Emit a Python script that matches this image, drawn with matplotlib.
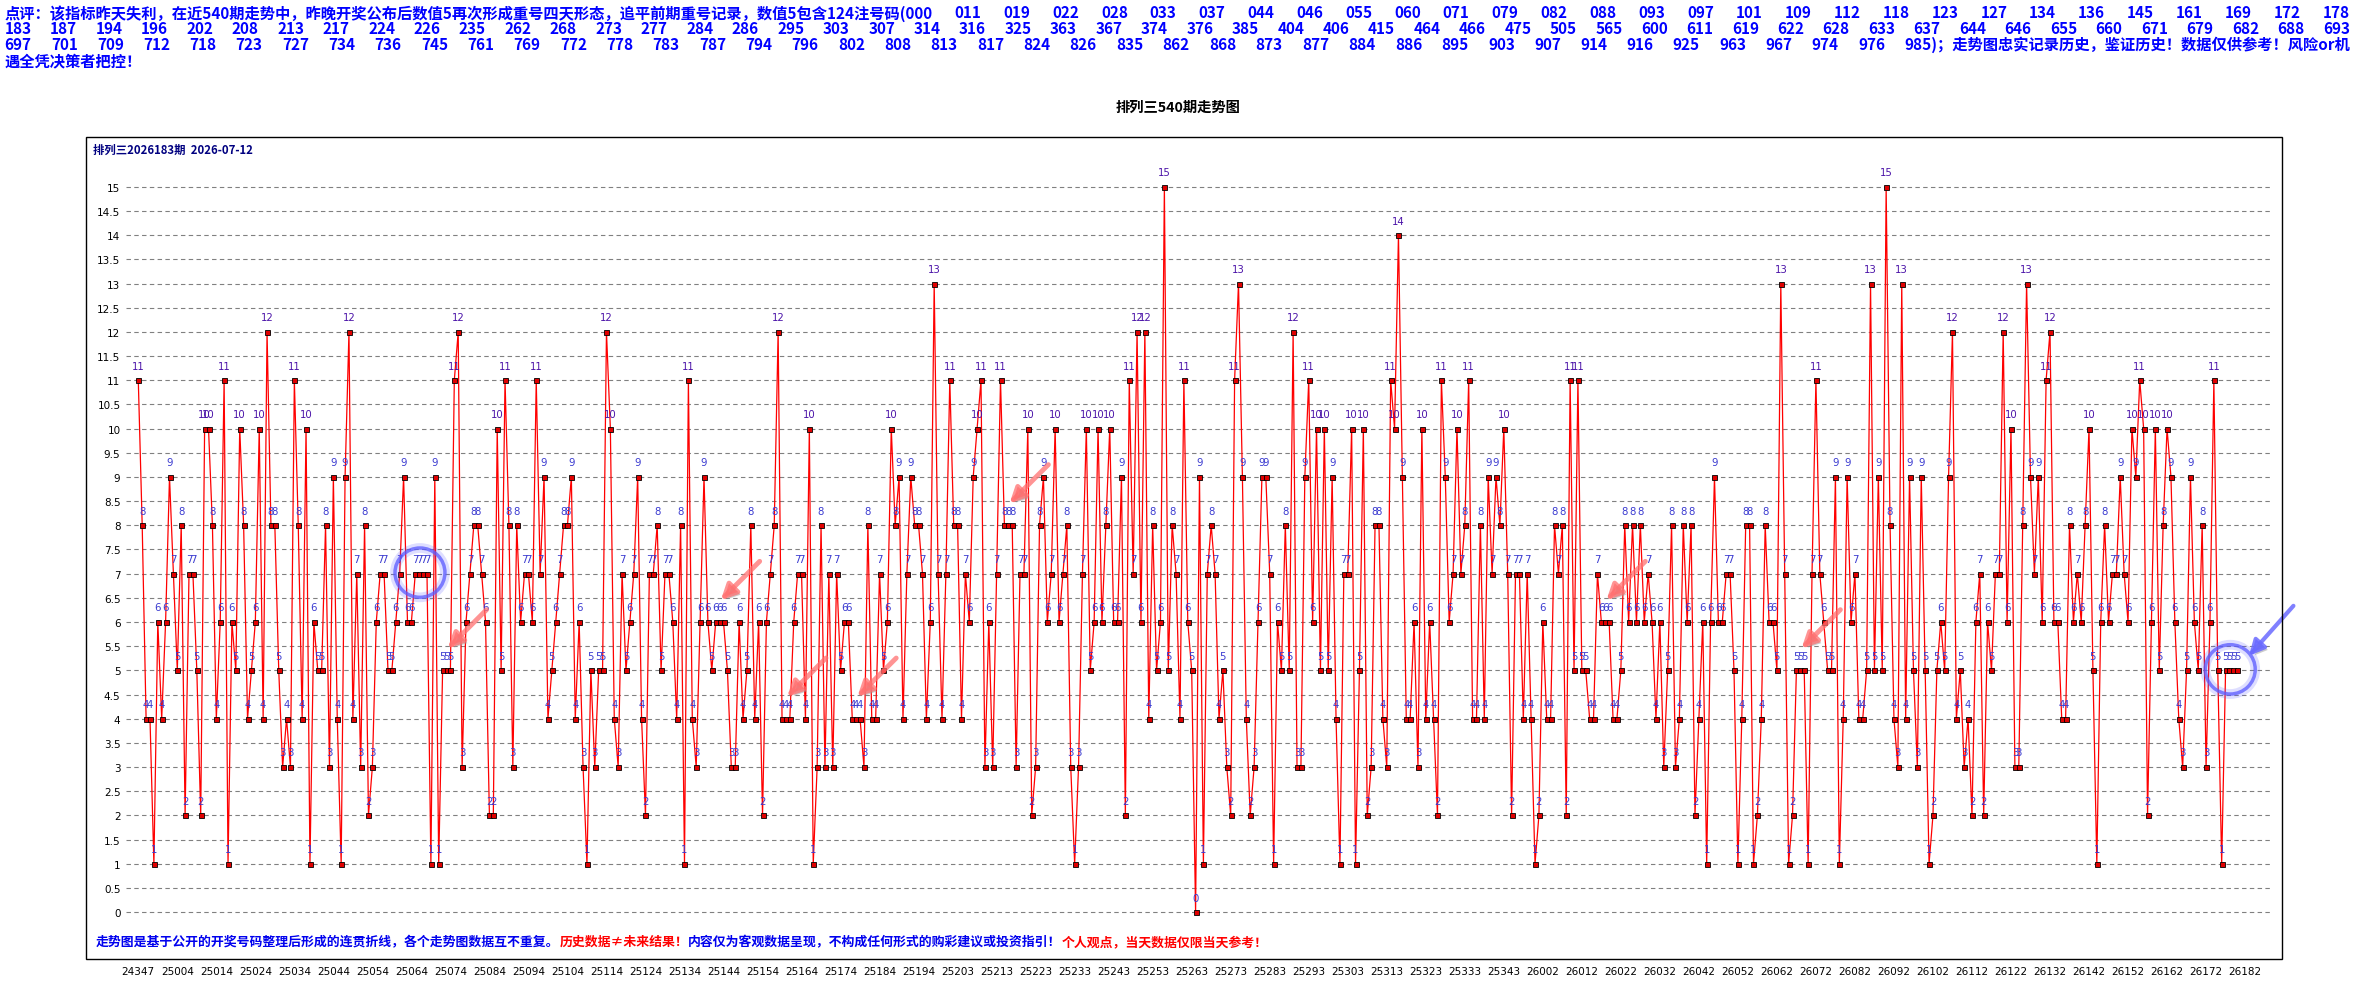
import numpy as np
import matplotlib.pyplot as plt
from matplotlib.patches import Ellipse, Rectangle
import matplotlib.patheffects as pe

plt.rcParams['font.family'] = ['Noto Sans CJK SC', 'DejaVu Sans']

W, H = 2354, 1004

# value per draw, oldest first
values = [
    11, 8, 4, 4, 1, 6, 4, 6, 9, 7, 5, 8, 2, 7, 7, 5, 2, 10, 10, 8,
    4, 6, 11, 1, 6, 5, 10, 8, 4, 5, 6, 10, 4, 12, 8, 8, 5, 3, 4, 3,
    11, 8, 4, 10, 1, 6, 5, 5, 8, 3, 9, 4, 1, 9, 12, 4, 7, 3, 8, 2,
    3, 6, 7, 7, 5, 5, 6, 7, 9, 6, 6, 7, 7, 7, 7, 1, 9, 1, 5, 5,
    5, 11, 12, 3, 6, 7, 8, 8, 7, 6, 2, 2, 10, 5, 11, 8, 3, 8, 6, 7,
    7, 6, 11, 7, 9, 4, 5, 6, 7, 8, 8, 9, 4, 6, 3, 1, 5, 3, 5, 5,
    12, 10, 4, 3, 7, 5, 6, 7, 9, 4, 2, 7, 7, 8, 5, 7, 7, 6, 4, 8,
    1, 11, 4, 3, 6, 9, 6, 5, 6, 6, 6, 5, 3, 3, 6, 4, 5, 8, 4, 6,
    2, 6, 7, 8, 12, 4, 4, 4, 6, 7, 7, 4, 10, 1, 3, 8, 3, 7, 3, 7,
    5, 6, 6, 4, 4, 4, 3, 8, 4, 4, 7, 5, 6, 10, 8, 9, 4, 7, 9, 8,
    8, 7, 4, 6, 13, 7, 4, 7, 11, 8, 8, 4, 7, 6, 9, 10, 11, 3, 6, 3,
    7, 11, 8, 8, 8, 3, 7, 7, 10, 2, 3, 8, 9, 6, 7, 10, 6, 7, 8, 3,
    1, 3, 7, 10, 5, 6, 10, 6, 8, 10, 6, 6, 9, 2, 11, 7, 12, 6, 12, 4,
    8, 5, 6, 15, 5, 8, 7, 4, 11, 6, 5, 0, 9, 1, 7, 8, 7, 4, 5, 3,
    2, 11, 13, 9, 4, 2, 3, 6, 9, 9, 7, 1, 6, 5, 8, 5, 12, 3, 3, 9,
    11, 6, 10, 5, 10, 5, 9, 4, 1, 7, 7, 10, 1, 5, 10, 2, 3, 8, 8, 4,
    3, 11, 10, 14, 9, 4, 4, 6, 3, 10, 4, 6, 4, 2, 11, 9, 6, 7, 10, 7,
    8, 11, 4, 4, 8, 4, 9, 7, 9, 8, 10, 7, 2, 7, 7, 4, 7, 4, 1, 2,
    6, 4, 4, 8, 7, 8, 2, 11, 5, 11, 5, 5, 4, 4, 7, 6, 6, 6, 4, 4,
    5, 8, 6, 8, 6, 8, 6, 7, 6, 4, 6, 3, 5, 8, 3, 4, 8, 6, 8, 2,
    4, 6, 1, 6, 9, 6, 6, 7, 7, 5, 1, 4, 8, 8, 1, 2, 4, 8, 6, 6,
    5, 13, 7, 1, 2, 5, 5, 5, 1, 7, 11, 7, 6, 5, 5, 9, 1, 4, 9, 6,
    7, 4, 4, 5, 13, 5, 9, 5, 15, 8, 4, 3, 13, 4, 9, 5, 3, 9, 5, 1,
    2, 5, 6, 5, 9, 12, 4, 5, 3, 4, 2, 6, 7, 2, 6, 5, 7, 7, 12, 6,
    10, 3, 3, 8, 13, 9, 7, 9, 6, 11, 12, 6, 6, 4, 4, 8, 6, 7, 6, 8,
    10, 5, 1, 6, 8, 6, 7, 7, 9, 7, 6, 10, 9, 11, 10, 2, 6, 10, 5, 8,
    10, 9, 6, 4, 3, 5, 9, 6, 5, 8, 3, 6, 11, 5, 1, 5, 5, 5, 5,
]

periods = [
    '24347', '25004', '25014', '25024', '25034', '25044', '25054', '25064', '25074', '25084',
    '25094', '25104', '25114', '25124', '25134', '25144', '25154', '25164', '25174', '25184',
    '25194', '25203', '25213', '25223', '25233', '25243', '25253', '25263', '25273', '25283',
    '25293', '25303', '25313', '25323', '25333', '25343', '26002', '26012', '26022', '26032',
    '26042', '26052', '26062', '26072', '26082', '26092', '26102', '26112', '26122', '26132',
    '26142', '26152', '26162', '26172', '26182',
]

codes_1 = ['000', '011', '019', '022', '028', '033', '037', '044', '046', '055', '060', '071',
           '079', '082', '088', '093', '097', '101', '109', '112', '118', '123', '127', '134',
           '136', '145', '161', '169', '172', '178']
codes_2 = ['183', '187', '194', '196', '202', '208', '213', '217', '224', '226', '235', '262',
           '268', '273', '277', '284', '286', '295', '303', '307', '314', '316', '325', '363',
           '367', '374', '376', '385', '404', '406', '415', '464', '466', '475', '505', '565',
           '600', '611', '619', '622', '628', '633', '637', '644', '646', '655', '660', '671',
           '679', '682', '688', '693']
codes_3 = ['697', '701', '709', '712', '718', '723', '727', '734', '736', '745', '761', '769',
           '772', '778', '783', '787', '794', '796', '802', '808', '813', '817', '824', '826',
           '835', '862', '868', '873', '877', '884', '886', '895', '903', '907', '914', '916',
           '925', '963', '967', '974', '976', '985']

footer = [
    ('走势图是基于公开的开奖号码整理后形成的连贯折线，各个走势图数据互不重复。', '#0000ee'),
    ('历史数据≠未来结果！', '#ff0000'),
    ('内容仅为客观数据呈现，不构成任何形式的购彩建议或投资指引！', '#0000ee'),
    ('个人观点，当天数据仅限当天参考！', '#ff0000'),
]


def fx(px):
    return px / W


def fy(py):
    return 1 - py / H


fig = plt.figure(figsize=(W / 100, H / 100), dpi=100)
fig.patch.set_facecolor('white')

# outer frame of the chart
fig.patches.append(Rectangle((fx(86), fy(960)), fx(2282) - fx(86), fy(138) - fy(960),
                             transform=fig.transFigure, fill=False, ec='black', lw=1))

ax = fig.add_axes([fx(126), fy(960), fx(2272) - fx(126), fy(138) - fy(960)])
for s in ax.spines.values():
    s.set_visible(False)
ax.set_facecolor('none')
ax.set_xlim(-3.15, 546.9)
ax.set_ylim(-0.97, 16.03)
ax.set_yticks(np.arange(0, 15.01, 0.5))
ax.yaxis.set_major_formatter(lambda v, p: f'{v:g}')
ax.grid(axis='y', color='#808080', ls=(0, (4, 3)), lw=0.8)
ax.tick_params(axis='y', length=0, labelsize=7.5, pad=4)
for lab in ax.get_yticklabels():
    lab.set_family('DejaVu Sans')

x = np.arange(len(values))
ax.plot(x, values, color='red', lw=0.9, marker='s', ms=3.6, mfc='#e00000', mec='black',
        mew=0.6, zorder=3)
for xi, v in zip(x, values):
    ax.annotate(str(v), (xi, v), xytext=(0, 10.5), textcoords='offset points',
                ha='center', va='center', fontsize=7.3, family='DejaVu Sans',
                color='#4a12a8' if v >= 10 else '#3a3ad0', zorder=4)

ax.set_xticks(np.arange(len(periods)) * 10)
ax.set_xticklabels(periods, fontsize=7.5, family='DejaVu Sans')
ax.tick_params(axis='x', length=0, pad=5)

# runs of repeated values: 3 in a row get an arrow, 4 get a circle
runs = []
start = 0
for i in range(1, len(values) + 1):
    if i == len(values) or values[i] != values[start]:
        if i - start >= 3:
            runs.append((start, i - 1, values[start]))
        start = i

shadow = [pe.SimplePatchShadow(offset=(2, -2), shadow_rgbFace='#999999', alpha=0.5), pe.Normal()]
for a, b, v in runs:
    mid = (a + b) / 2
    if b - a + 1 >= 4:
        for lw, al in [(7, 0.2), (2.5, 0.75)]:
            ax.add_patch(Ellipse((mid - 0.3, v + 0.02), 12.8, 1.02, fill=False, ec='#5a5aff',
                                 lw=lw, alpha=al, zorder=5))
    else:
        ax.annotate('', xy=(mid + 0.3, v + 0.45), xytext=(28, 28), textcoords='offset points',
                    arrowprops=dict(arrowstyle='-|>,head_length=0.9,head_width=0.45', lw=3.5,
                                    color='#ff7070', alpha=0.75, shrinkA=0, shrinkB=0,
                                    path_effects=shadow), zorder=6)

last = runs[-1]
ax.annotate('', xy=((last[0] + last[1]) / 2 + 4.5, last[2] + 0.3), xytext=(32, 36),
            textcoords='offset points',
            arrowprops=dict(arrowstyle='-|>,head_length=0.9,head_width=0.45', lw=3,
                            color='#6a6aff', alpha=0.85, shrinkA=0, shrinkB=0,
                            path_effects=shadow), zorder=6)

# titles and notes
fig.text(fx(1178), fy(108), '排列三540期走势图', ha='center', va='center', fontsize=10.3,
         weight='bold', color='black')
fig.text(fx(93), fy(150), '排列三2026183期  2026-07-12', ha='left', va='center', fontsize=8.2,
         weight='bold', color='#000080')

footer_texts = [fig.text(0, fy(942), seg, color=col, fontsize=9.3, weight='bold', va='center')
                for seg, col in footer]

fig.canvas.draw()
r = fig.canvas.get_renderer()

# footer segments one after another
xpos = 96
for tt in footer_texts:
    tt.set_x(fx(xpos))
    xpos += tt.get_window_extent(r).width


def justify(tokens, y, left=4.5, right=2350):
    texts = [fig.text(0, fy(y), tok, fontsize=11, weight='bold', color='#0000ff', va='center')
             for tok in tokens]
    widths = [tt.get_window_extent(r).width for tt in texts]
    gap = (right - left - sum(widths)) / (len(tokens) - 1)
    pos = left
    for tt, w in zip(texts, widths):
        tt.set_x(fx(pos))
        pos += w + gap


# header text, justified across the full width
line1 = ['点评：该指标昨天失利，在近540期走势中，昨晚开奖公布后数值5再次形成重号四天形态，'
         '追平前期重号记录，数值5包含124注号码(' + codes_1[0]] + codes_1[1:]
line3 = codes_3[:-1] + [codes_3[-1] + ')；走势图忠实记录历史，鉴证历史！数据仅供参考！风险or机']
justify(line1, 13.5)
justify(codes_2, 29)
justify(line3, 45)
fig.text(fx(4.5), fy(61.5), '遇全凭决策者把控！', fontsize=11, weight='bold', color='#0000ff',
         va='center')

fig.savefig('out.png', dpi=100, facecolor='white')
